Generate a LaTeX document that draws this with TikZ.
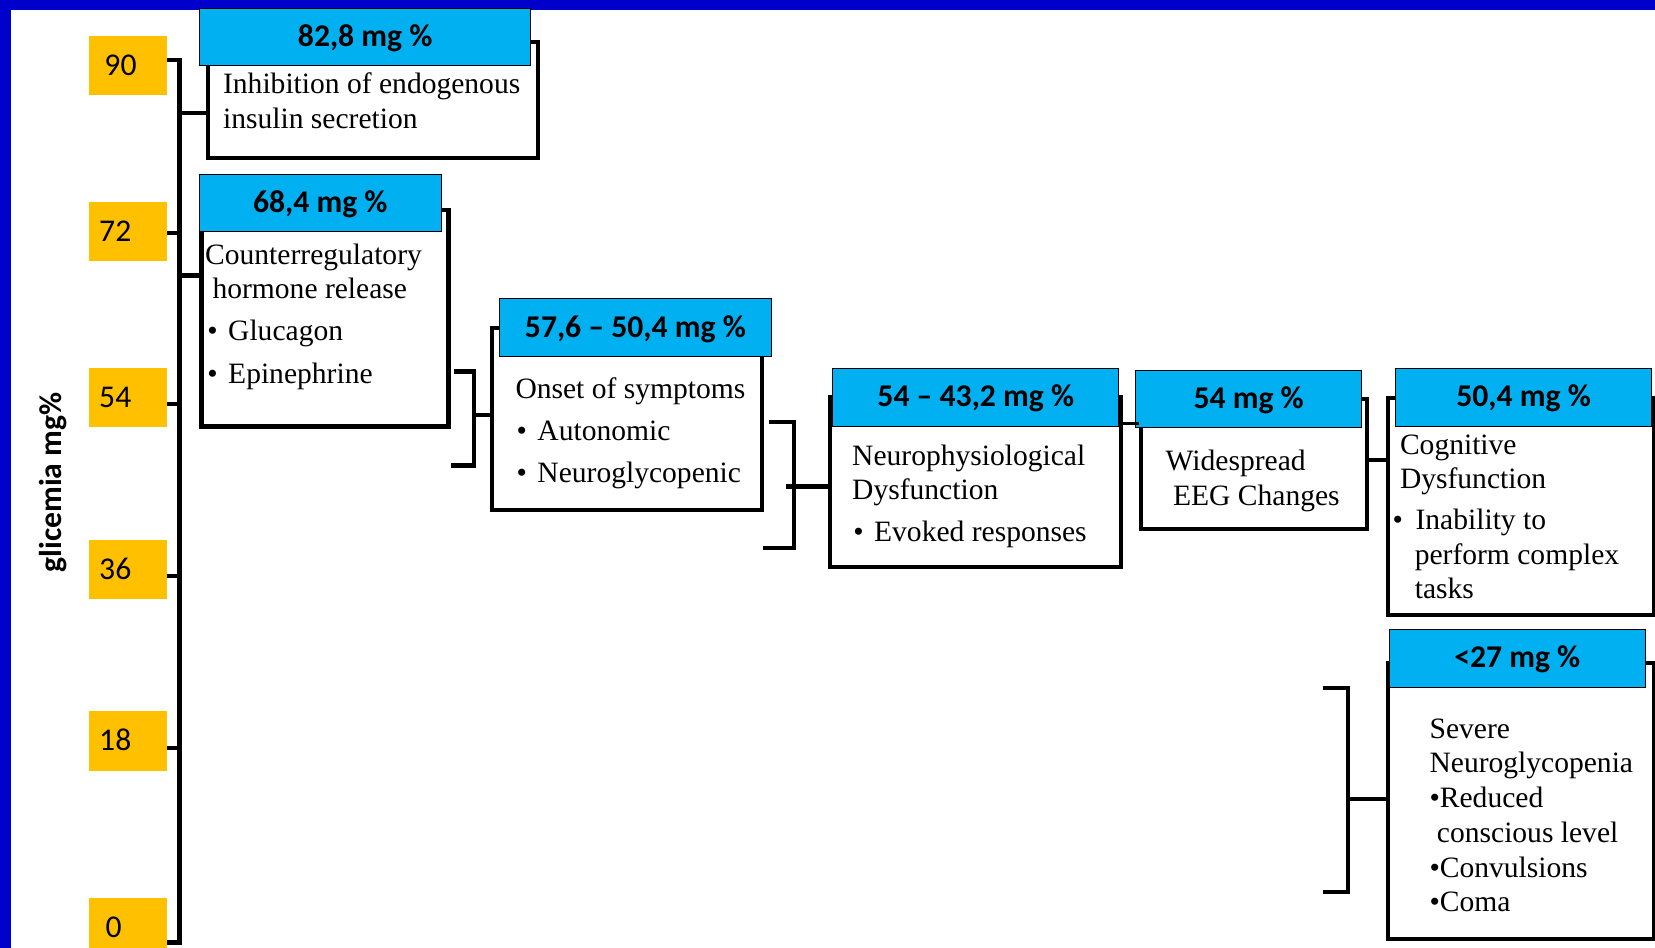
\documentclass[tikz,border=0pt]{standalone}
\usepackage{fontspec}
\setmainfont{Liberation Serif}
\newfontfamily\carl{Carlito}
\newdimen\px \px=0.5pt
\definecolor{frameblue}{HTML}{0000CC}
\definecolor{hdrblue}{HTML}{00B0F0}
\definecolor{lvlgold}{HTML}{FFC000}
\begin{document}
\begin{tikzpicture}[x=0.5pt, y=-0.5pt,
  heavy/.style={line width=2pt, line join=miter},
  body/.style={draw=black, line width=2pt, fill=white, inner sep=0pt},
  hdr/.style={draw=black, line width=0.5pt, fill=hdrblue, inner sep=0pt,
    font=\carl\bfseries\fontsize{15}{18}\selectfont, text height=9pt, text depth=0pt},
  lvl/.style={fill=lvlgold, minimum width=74\px, minimum height=56\px,
    inner xsep=5pt, inner ysep=0pt, text width=27pt, align=left,
    font=\carl\fontsize{15}{18}\selectfont, text height=9.5pt, text depth=0pt},
  txt/.style={anchor=west, inner sep=0pt, yshift=-2pt, font=\fontsize{14}{16.5}\selectfont,
    text height=9.5pt, text depth=3.5pt}]
\useasboundingbox (0,0) rectangle (1568,898);
\fill[white] (0,0) rectangle (1568,898);
% blue frame along the top and left edges
\fill[frameblue] (0,0) rectangle (1568,9.5);
\fill[frameblue] (0,0) rectangle (10,898);

% glycaemia scale
\node[lvl] (y90) at (121,62) {\hspace*{2.5pt}90};
\node[lvl] (y72) at (121,219.5) {72};
\node[lvl] (y54) at (121,376.5) {54};
\node[lvl] (y36) at (121,539.5) {36};
\node[lvl] (y18) at (121,702) {18};
\node[lvl] (y0) at (121,879) {\hspace*{3pt}0};
\node[rotate=90, inner sep=0pt, font=\carl\bfseries\fontsize{15}{18}\selectfont] (ylab) at (50,457) {glicemia mg\%};

\coordinate (axtop) at (170,57);
\coordinate (axbot) at (170,893);
\draw[heavy] (y90.east |- axtop) -- (axtop) -- (axbot) -- (y0.east |- axbot);
\foreach \n/\yy in {72/221,54/383,36/546,18/709}
  \draw[heavy] (y\n.east |- 0,\yy) -- (axtop |- 0,\yy);

% stage boxes: bodies first, headers on top
\node[body, minimum width=313\px, minimum height=110\px] (bodyA) at (353.5,95) {};
\node[body, minimum width=234\px, minimum height=205\px] (bodyB) at (308,301.5) {};
\node[body, minimum width=256\px, minimum height=172\px] (bodyC) at (594,397) {};
\node[body, minimum width=276\px, minimum height=161\px] (bodyD) at (924,456.5) {};
\node[body, minimum width=214\px, minimum height=123\px] (bodyE) at (1188,439.5) {};
\node[body, minimum width=252\px, minimum height=206\px] (bodyF) at (1441,480) {};
\node[body, minimum width=252\px, minimum height=262\px] (bodyG) at (1441,759) {};

\node[hdr, minimum width=314\px, minimum height=54\px] (hdrA) at (346,35) {82,8 mg \%};
\node[hdr, minimum width=229\px, minimum height=54\px] (hdrB) at (303.5,192) {68,4 mg \%};
\node[hdr, minimum width=258\px, minimum height=55\px] (hdrC) at (602,310.5) {57,6 \textendash\ 50,4 mg \%};
\node[hdr, minimum width=271\px, minimum height=55\px] (hdrD) at (924.5,376.5) {54 \textendash\ 43,2 mg \%};
\node[hdr, minimum width=214\px, minimum height=54\px] (hdrE) at (1183,378) {54 mg \%};
\node[hdr, minimum width=243\px, minimum height=55\px] (hdrF) at (1443.5,376.5) {50,4 mg \%};
\node[hdr, minimum width=243\px, minimum height=55\px] (hdrG) at (1437.5,623.5) {<27 mg \%};

% box texts
\node[txt] (tA1) at (211,79) {Inhibition of endogenous};
\node[txt] (tA2) at (211,112) {insulin secretion};

\node[txt] (tB1) at (194,241) {Counterregulatory};
\node[txt] (tB2) at (201,273) {hormone release};
\node[txt] (tB3) at (196,313) {•\hspace{5pt}Glucagon};
\node[txt] (tB4) at (196,353) {•\hspace{5pt}Epinephrine};

\node[txt] (tC1) at (488,368) {Onset of symptoms};
\node[txt] (tC2) at (489,407) {•\hspace{5pt}Autonomic};
\node[txt] (tC3) at (489,447) {•\hspace{5pt}Neuroglycopenic};

\node[txt] (tD1) at (807,431) {Neurophysiological};
\node[txt] (tD2) at (807,463) {Dysfunction};
\node[txt] (tD3) at (808,503) {•\hspace{5pt}Evoked responses};

\node[txt] (tE1) at (1104,436) {Widespread};
\node[txt] (tE2) at (1111,469) {EEG Changes};

\node[txt] (tF1) at (1326,421) {Cognitive};
\node[txt] (tF2) at (1326,453) {Dysfunction};
\node[txt] (tF3) at (1319,492) {•\hspace{6pt}Inability to};
\node[txt] (tF4) at (1340,525) {perform complex};
\node[txt] (tF5) at (1340,557) {tasks};

\node[txt] (tG1) at (1354,690) {Severe};
\node[txt] (tG2) at (1354,722) {Neuroglycopenia};
\node[txt] (tG3) at (1354,755) {•Reduced};
\node[txt] (tG4) at (1361,788) {conscious level};
\node[txt] (tG5) at (1354,821) {•Convulsions};
\node[txt] (tG6) at (1354,854) {•Coma};

% links from the scale to the first two stages
\draw[heavy] (axtop |- 0,107) -- (bodyA.west |- 0,107);
\draw[heavy] (axtop |- 0,261) -- (bodyB.west |- 0,261);

% bracket between stage B and stage C
\coordinate (bcTop) at (430,352);
\coordinate (bcMid) at (449,393);
\draw[heavy] (bcTop) -| (449,441) -- (bodyB.east |- 0,441);
\draw[heavy] (bcMid) -- (bodyC.west |- bcMid);

% bracket between stage C and stage D
\coordinate (cdTop) at (729,400);
\coordinate (cdMid) at (745,461);
\draw[heavy] (cdTop) -| (752,519) -- (723,519);
\draw[heavy] (cdMid) -- (bodyD.west |- cdMid);

% short links along the row
\draw[line width=1.25pt] (bodyD.east |- 0,401) -- (bodyE.west |- 0,401);
\draw[heavy] (bodyE.east |- 0,436) -- (bodyF.west |- 0,436);

% bracket in front of the last stage
\coordinate (gTop) at (1253,652);
\coordinate (gMid) at (1277,757);
\draw[heavy] (gTop) -| (1277,845) -- (1253,845);
\draw[heavy] (gMid) -- (bodyG.west |- gMid);
\end{tikzpicture}
\end{document}
